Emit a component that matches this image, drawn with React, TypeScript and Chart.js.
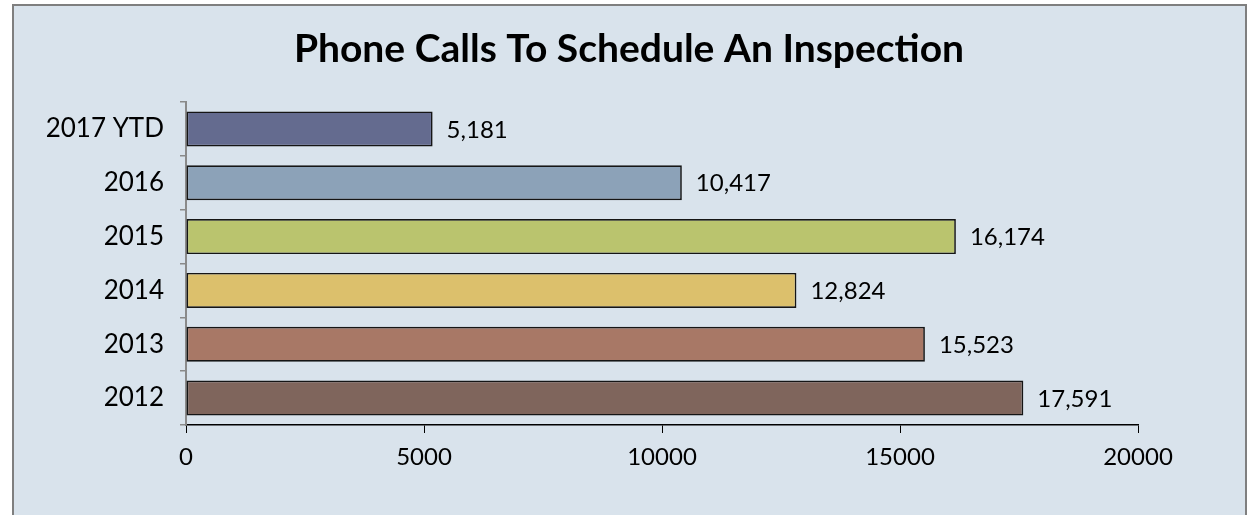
import React, { useEffect, useRef } from "react";
import { Chart, registerables } from "chart.js";

Chart.register(...registerables);

const categories: string[] = ["2017 YTD", "2016", "2015", "2014", "2013", "2012"];
const calls: number[] = [5181, 10417, 16174, 12824, 15523, 17591];
const barColors: string[] = ["#646b8f", "#8ca2b8", "#bac46e", "#dcc06c", "#a87866", "#7f655c"];
const xTicks: number[] = [0, 5000, 10000, 15000, 20000];
const titleText = "Phone Calls To Schedule An Inspection";

const FONT = "Lato, 'Open Sans', sans-serif";

const valueLabels = {
  id: "valueLabels",
  afterDatasetsDraw(chart: any) {
    const ctx = chart.ctx;
    const meta = chart.getDatasetMeta(0);
    ctx.save();
    ctx.font = `24px ${FONT}`;
    ctx.fillStyle = "#000";
    ctx.textAlign = "left";
    ctx.textBaseline = "middle";
    meta.data.forEach((bar: any, i: number) => {
      const v = calls[i];
      ctx.fillText(v.toLocaleString("en-US"), bar.x + 14, bar.y + 1);
    });
    ctx.restore();
  },
};

const titleDraw = {
  id: "titleDraw",
  afterDraw(chart: any) {
    const ctx = chart.ctx;
    ctx.save();
    ctx.font = `bold 39px ${FONT}`;
    ctx.fillStyle = "#000";
    ctx.textAlign = "center";
    ctx.textBaseline = "alphabetic";
    ctx.fillText(titleText, 629, 62);
    ctx.restore();
  },
};

export default function App() {
  const ref = useRef<HTMLCanvasElement | null>(null);

  useEffect(() => {
    if (!ref.current) return;
    const chart = new Chart(ref.current, {
      type: "bar",
      data: {
        labels: categories,
        datasets: [
          {
            data: calls,
            backgroundColor: barColors,
            borderColor: "#151515",
            borderWidth: 1.7,
            borderSkipped: false,
            categoryPercentage: 1,
            barPercentage: 0.65,
          },
        ],
      },
      options: {
        indexAxis: "y",
        animation: false,
        responsive: false,
        devicePixelRatio: 1,
        layout: { padding: { left: 0, right: 111, top: 102, bottom: 0 } },
        plugins: {
          legend: { display: false },
          tooltip: { enabled: false },
          title: { display: false },
        },
        scales: {
          x: {
            type: "linear",
            min: 0,
            max: 20000,
            afterBuildTicks: (scale: any) => {
              scale.ticks = xTicks.map((v) => ({ value: v }));
            },
            afterFit: (scale: any) => {
              scale.height = 90;
            },
            ticks: {
              color: "#000",
              font: { family: FONT, size: 24 },
              padding: 10,
              callback: (v: any) => String(v),
            },
            grid: {
              drawOnChartArea: false,
              drawTicks: true,
              tickLength: 8,
              color: "#000",
              lineWidth: 1,
            },
            border: { display: true, color: "#000", width: 1.5 },
          },
          y: {
            afterFit: (scale: any) => {
              scale.width = 186;
            },
            ticks: {
              color: "#000",
              font: { family: FONT, size: 26 },
              padding: 16,
            },
            grid: {
              drawOnChartArea: false,
              drawTicks: true,
              tickLength: 6,
              color: "#8a8a8a",
              lineWidth: 1.5,
            },
            border: { display: true, color: "#8a8a8a", width: 2 },
          },
        },
      },
      plugins: [valueLabels, titleDraw],
    });
    return () => chart.destroy();
  }, []);

  return (
    <div
      style={{
        position: "fixed",
        left: 0,
        top: 0,
        width: 1249,
        height: 515,
        background: "#fff",
        overflow: "hidden",
      }}
    >
      <div
        style={{
          position: "absolute",
          left: 12,
          top: 4,
          width: 1231,
          height: 530,
          background: "#d9e3ec",
          borderTop: "2px solid #7f7f7f",
          borderLeft: "2px solid #7f7f7f",
          borderRight: "2px solid #7f7f7f",
        }}
      />
      <canvas
        ref={ref}
        width={1249}
        height={515}
        style={{ position: "absolute", left: 0, top: 0, width: 1249, height: 515 }}
      />
    </div>
  );
}
